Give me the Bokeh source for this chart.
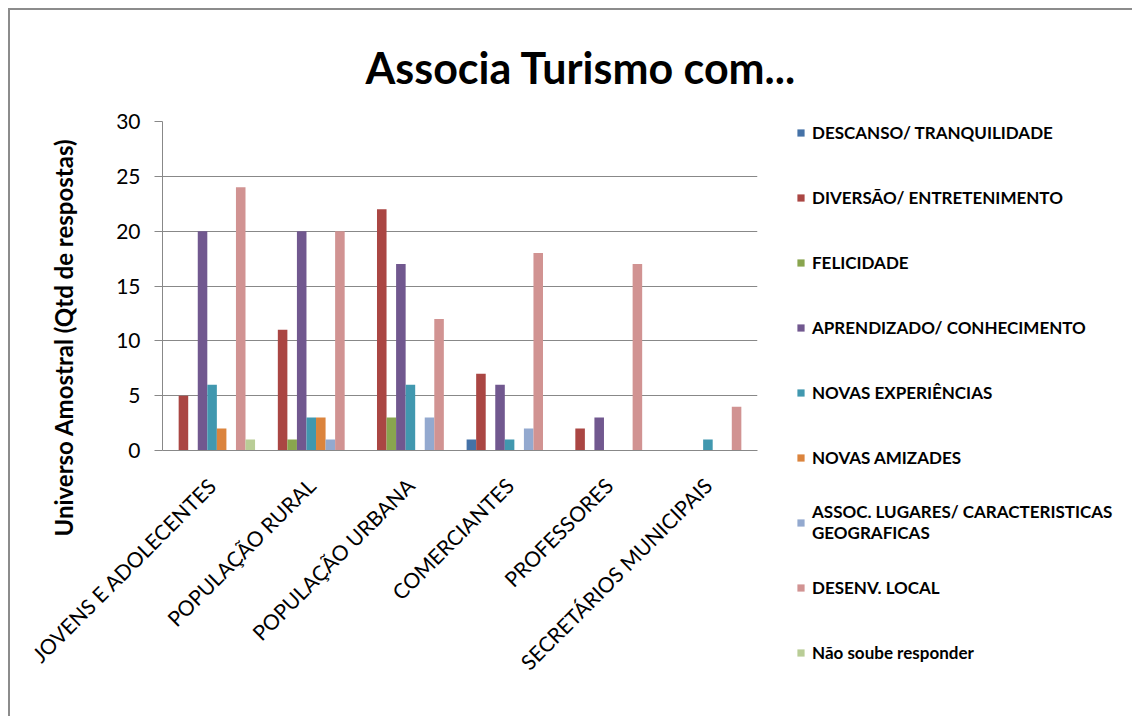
import math
from bokeh.plotting import figure
from bokeh.layouts import row
from bokeh.models import (FactorRange, Range1d, Legend, LegendItem, Title,
                          ColumnDataSource, FixedTicker)
from bokeh.transform import dodge
from bokeh.embed import file_html
from bokeh.resources import INLINE

# ---------------- data ----------------
categories = ["JOVENS E ADOLECENTES", "POPULAÇÃO RURAL", "POPULAÇÃO URBANA",
              "COMERCIANTES", "PROFESSORES", "SECRETÁRIOS MUNICIPAIS"]

series_names = ["DESCANSO/ TRANQUILIDADE", "DIVERSÃO/ ENTRETENIMENTO", "FELICIDADE",
                "APRENDIZADO/ CONHECIMENTO", "NOVAS EXPERIÊNCIAS", "NOVAS AMIZADES",
                "ASSOC. LUGARES/ CARACTERISTICAS\nGEOGRAFICAS", "DESENV. LOCAL",
                "Não soube responder"]

descanso    = [0, 0, 0, 1, 0, 0]
diversao    = [5, 11, 22, 7, 2, 0]
felicidade  = [0, 1, 3, 0, 0, 0]
aprendizado = [20, 20, 17, 6, 3, 0]
novas_exp   = [6, 3, 6, 1, 0, 1]
novas_amiz  = [2, 3, 0, 0, 0, 0]
assoc_lug   = [0, 1, 3, 2, 0, 0]
desenv      = [24, 20, 12, 18, 17, 4]
nao_soube   = [1, 0, 0, 0, 0, 0]

series_values = [descanso, diversao, felicidade, aprendizado, novas_exp,
                 novas_amiz, assoc_lug, desenv, nao_soube]

colors = ["#4572A7", "#AA4643", "#89A54E", "#71588F", "#4198AF",
          "#DB843D", "#93A9CF", "#D19392", "#B9CD96"]

y_ticks = [0, 5, 10, 15, 20, 25, 30]

FONT = "Lato"
GRAY = "#888888"

data = {"cat": categories}
keys = []
for i, vals in enumerate(series_values):
    k = "s%d" % i
    data[k] = vals
    keys.append(k)
src = ColumnDataSource(data)

bw = 0.0963

# ---------------- main chart ----------------
p = figure(x_range=FactorRange(factors=categories), y_range=Range1d(0, 30),
           width=784, height=706, output_backend="svg", toolbar_location=None,
           min_border_left=146, min_border_top=108, min_border_right=37,
           min_border_bottom=266)
p.frame_align = False
p.outline_line_color = None
p.background_fill_color = "white"
p.border_fill_color = "white"

p.title.text = "Associa Turismo com..."
p.title.text_font = FONT
p.title.text_font_size = "43px"
p.title.text_font_style = "bold"
p.title.text_color = "black"
p.title.align = "left"
p.title.offset = 203
p.title.standoff = 58

for i, k in enumerate(keys):
    p.vbar(x=dodge("cat", (i - 4) * bw, range=p.x_range), top=k, width=bw,
           source=src, fill_color=colors[i], line_color=None)

# axes
p.xgrid.grid_line_color = None
p.ygrid.grid_line_color = GRAY
p.yaxis.ticker = FixedTicker(ticks=y_ticks)
p.yaxis.axis_line_color = GRAY
p.yaxis.major_tick_line_color = GRAY
p.yaxis.major_tick_out = 8
p.yaxis.major_tick_in = 0
p.yaxis.minor_tick_line_color = None
p.yaxis.major_label_text_font = FONT
p.yaxis.major_label_text_font_size = "21px"
p.yaxis.major_label_text_color = "black"
p.yaxis.major_label_standoff = 14

p.xaxis.axis_line_color = GRAY
p.xaxis.major_tick_line_color = None
p.xaxis.minor_tick_line_color = None
p.xaxis.major_label_orientation = math.pi / 4
p.xaxis.major_label_text_font = FONT
p.xaxis.major_label_text_font_size = "21px"
p.xaxis.major_label_text_color = "black"
p.xaxis.major_label_standoff = 25

ylab = Title(text="Universo Amostral (Qtd de respostas)", align="left",
             offset=-86, vertical_align="bottom", standoff=72, text_font=FONT,
             text_font_size="24px", text_font_style="bold", text_color="black")
p.add_layout(ylab, "left")

# ---------------- legend panel ----------------
lp = figure(width=338, height=706, output_backend="svg", toolbar_location=None,
            x_range=FactorRange(factors=categories), y_range=Range1d(0, 30),
            x_axis_location=None, y_axis_location=None, min_border=0)
lp.frame_align = False
lp.outline_line_color = None
lp.grid.grid_line_color = None
lp.background_fill_color = "white"
lp.border_fill_color = "white"

items = []
for i, k in enumerate(keys):
    proxy = lp.vbar(x=dodge("cat", (i - 4) * bw, range=lp.x_range), top=k, width=bw,
                    source=src, fill_color=colors[i], line_color=None, visible=False)
    items.append(LegendItem(label=series_names[i], renderers=[proxy]))

legend = Legend(items=items, location=(2, 39), glyph_width=9, glyph_height=9,
                label_standoff=7, label_text_font=FONT, label_text_font_size="17px",
                label_text_font_style="bold", label_text_color="black",
                label_height=50, spacing=15,
                padding=0, margin=0, border_line_color=None,
                background_fill_alpha=0)
lp.add_layout(legend)

layout = row(p, lp, spacing=0)
layout.styles = {"margin-left": "8px", "margin-top": "8px",
                 "border-left": "2px solid #8c8c8c", "border-top": "2px solid #8c8c8c"}

open("out.html", "w").write(file_html(layout, INLINE))
